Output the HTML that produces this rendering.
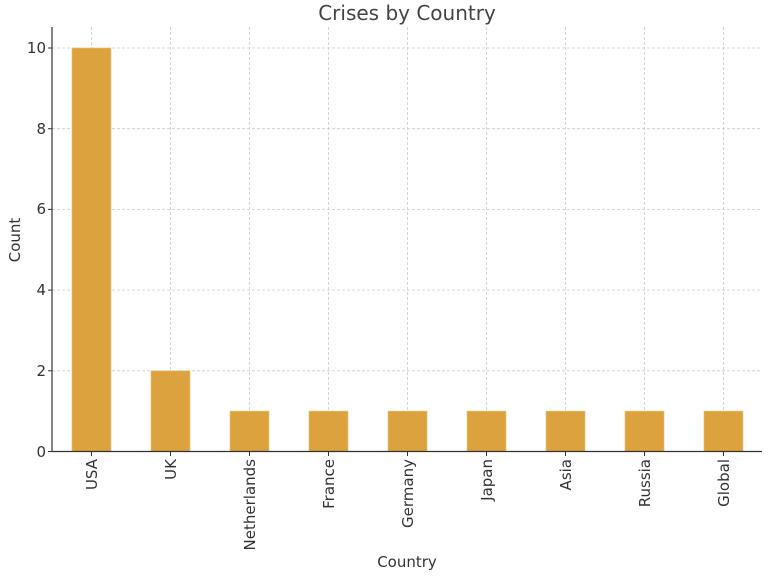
<!DOCTYPE html>
<html><head><meta charset="utf-8"><style>body{margin:0;background:#fff}</style></head><body>
<svg width="768" height="576" xmlns="http://www.w3.org/2000/svg" font-family="DejaVu Sans, Liberation Sans, sans-serif" fill="#333">
<rect width="768" height="576" fill="#fff"/>
<text x="407" y="20" font-size="20" text-anchor="middle" fill="#444">Crises by Country</text>
<g stroke="#ccc" stroke-width="0.8" stroke-dasharray="3,2">
<line x1="52" x2="762" y1="48" y2="48"/><line x1="52" x2="762" y1="128.7" y2="128.7"/>
<line x1="52" x2="762" y1="209.4" y2="209.4"/><line x1="52" x2="762" y1="290.1" y2="290.1"/>
<line x1="52" x2="762" y1="370.8" y2="370.8"/>
<line x1="91.5" x2="91.5" y1="27" y2="451.5"/><line x1="170.5" x2="170.5" y1="27" y2="451.5"/>
<line x1="249.5" x2="249.5" y1="27" y2="451.5"/><line x1="328.5" x2="328.5" y1="27" y2="451.5"/>
<line x1="407.5" x2="407.5" y1="27" y2="451.5"/><line x1="486.5" x2="486.5" y1="27" y2="451.5"/>
<line x1="565.5" x2="565.5" y1="27" y2="451.5"/><line x1="644.5" x2="644.5" y1="27" y2="451.5"/>
<line x1="723.5" x2="723.5" y1="27" y2="451.5"/>
</g>
<g fill="#dca23d" stroke="#eac27a" stroke-width="0.6">
<rect x="72" y="48" width="39" height="403.5"/>
<rect x="151" y="370.8" width="39" height="80.7"/>
<rect x="230" y="411.1" width="39" height="40.4"/>
<rect x="309" y="411.1" width="39" height="40.4"/>
<rect x="388" y="411.1" width="39" height="40.4"/>
<rect x="467" y="411.1" width="39" height="40.4"/>
<rect x="546" y="411.1" width="39" height="40.4"/>
<rect x="625" y="411.1" width="39" height="40.4"/>
<rect x="704" y="411.1" width="39" height="40.4"/>
</g>
<g stroke="#333" stroke-width="1.2" fill="none">
<line x1="52" y1="27" x2="52" y2="452"/><line x1="51.5" y1="451.5" x2="762" y2="451.5"/>
</g>
<g stroke="#333" stroke-width="1">
<line x1="48" x2="52" y1="48" y2="48"/><line x1="48" x2="52" y1="128.7" y2="128.7"/><line x1="48" x2="52" y1="209.4" y2="209.4"/>
<line x1="48" x2="52" y1="290.1" y2="290.1"/><line x1="48" x2="52" y1="370.8" y2="370.8"/><line x1="48" x2="52" y1="451.5" y2="451.5"/>
<line x1="91.5" x2="91.5" y1="451.5" y2="456"/><line x1="170.5" x2="170.5" y1="451.5" y2="456"/><line x1="249.5" x2="249.5" y1="451.5" y2="456"/>
<line x1="328.5" x2="328.5" y1="451.5" y2="456"/><line x1="407.5" x2="407.5" y1="451.5" y2="456"/><line x1="486.5" x2="486.5" y1="451.5" y2="456"/>
<line x1="565.5" x2="565.5" y1="451.5" y2="456"/><line x1="644.5" x2="644.5" y1="451.5" y2="456"/><line x1="723.5" x2="723.5" y1="451.5" y2="456"/>
</g>
<g font-size="15" text-anchor="end">
<text x="46" y="53">10</text><text x="46" y="134">8</text><text x="46" y="214">6</text>
<text x="46" y="295">4</text><text x="46" y="376">2</text><text x="46" y="457">0</text>
</g>
<g font-size="15" text-anchor="end">
<text transform="translate(97,459) rotate(-90)">USA</text>
<text transform="translate(176,459) rotate(-90)">UK</text>
<text transform="translate(255,459) rotate(-90)">Netherlands</text>
<text transform="translate(334,459) rotate(-90)">France</text>
<text transform="translate(413,459) rotate(-90)">Germany</text>
<text transform="translate(492,459) rotate(-90)">Japan</text>
<text transform="translate(571,459) rotate(-90)">Asia</text>
<text transform="translate(650,459) rotate(-90)">Russia</text>
<text transform="translate(729,459) rotate(-90)">Global</text>
</g>
<text x="407" y="567" font-size="15" text-anchor="middle">Country</text>
<text transform="translate(20,240) rotate(-90)" font-size="15" text-anchor="middle">Count</text>
</svg>
</body></html>
